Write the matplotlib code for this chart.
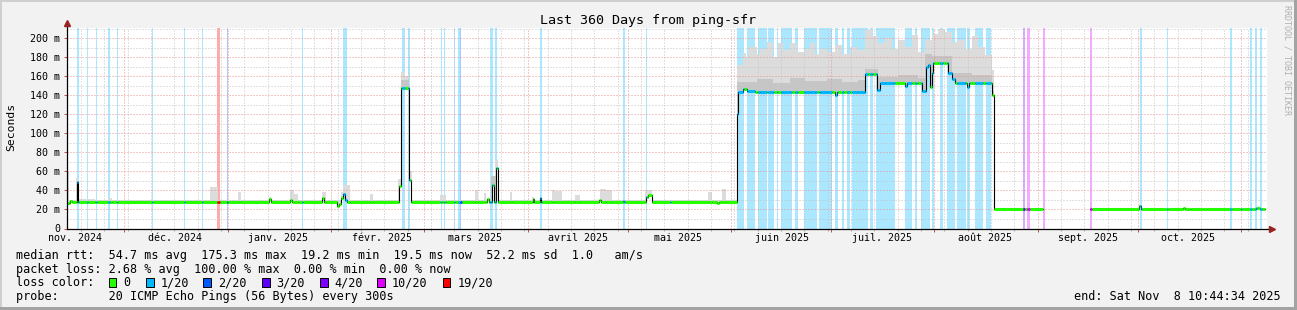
import numpy as np
import matplotlib
matplotlib.use('Agg')
import matplotlib.pyplot as plt
import matplotlib.dates as mdates
from matplotlib.ticker import MultipleLocator, FuncFormatter
from matplotlib.patches import Rectangle
from datetime import datetime, timedelta

plt.rcParams['font.family'] = ['DejaVu Sans Mono']

W, H = 1297, 310
nan = np.nan

# left edge of the time axis, 360 days shown
t0 = datetime(2024, 11, 13, 18, 44)
span_days = 360

# loss classes
loss_labels = ['0', '1/20', '2/20', '3/20', '4/20', '10/20', '19/20']
loss_colors = ['#26ff00', '#00b8ff', '#0059ff', '#5e00ff', '#7e00ff', '#dd00ff', '#ff0000']

# median rtt (ms) as steps: day offset from t0 -> value until next change
med_day = [0.0, 0.9, 1.5, 2.85, 3.3, 60.6, 61.2, 66.9, 67.35, 76.5, 77.1, 81.0, 81.6, 82.2, 82.8,
           83.4, 84.0, 99.6, 100.2, 102.6, 103.2, 126.0, 126.6, 127.5, 128.1, 128.7, 129.15, 139.65,
           140.1, 141.75, 142.2, 159.6, 160.2, 166.65, 167.1, 173.7, 174.3, 175.5, 195.0, 195.6,
           200.9, 201.2, 202.9, 203.9, 206.4, 230.4, 230.9, 239.4, 242.9, 243.9, 251.4, 251.9, 256.4,
           257.7, 258.4, 258.9, 259.4, 259.9, 264.4, 265.4, 266.4, 269.9, 270.6, 277.4, 278.2, 292.8,
           306.9, 321.6, 322.2, 334.65, 335.25, 336.6, 337.2, 340.8, 342.0, 356.7, 357.9, 359.4]
med_ms = [27, 29, 28, 49, 28, 31, 28, 30, 28, 32, 28, 24, 26, 32, 36,
          30, 28, 45, 148, 51, 28, 31, 28, 46, 28, 64, 28, 31,
          28, 32, 28, 30, 28, 29, 28, 33, 35, 28, 27, 28,
          120, 144, 147, 145, 144, 140, 144, 162, 146, 153, 150, 153, 145,
          170, 172, 149, 163, 174, 163, 157, 153, 149, 153, 140, 20.5, nan,
          20.5, 24, 20.5, 22, 20.5, 21, 20.5, 21, 20.5, 22, 20.5, nan]

# smoke: highest ping of the round (ms), steps
smoke_day = [0.0, 0.45, 2.7, 3.3, 8.4, 12.3, 13.5, 42.9, 45.3, 51.3, 52.2, 60.6, 61.2, 66.9, 68.1,
             69.3, 76.5, 77.7, 82.2, 82.8, 84.9, 90.9, 91.8, 99.3, 100.2, 101.4, 102.6, 103.5, 111.9,
             113.7, 122.4, 123.3, 125.1, 125.7, 127.2, 128.4, 129.3, 132.9, 133.5, 139.5, 140.1,
             145.5, 146.4, 148.5, 152.4, 153.9, 159.9, 161.7, 163.5, 173.4, 175.5, 192.3, 193.5,
             196.5, 197.7, 200.9, 201.1, 202.9, 203.6, 204.4, 206.9, 207.9, 209.9, 211.9, 213.4,
             214.9, 216.9, 218.9, 221.4, 222.9, 224.4, 225.9, 227.9, 230.4, 232.4, 234.9, 237.4,
             239.4, 241.4, 243.4, 245.4, 247.4, 249.4, 251.4, 253.4, 255.4, 257.4, 259.4, 261.4,
             263.4, 265.4, 267.4, 269.4, 271.4, 273.4, 275.4, 277.4, 278.2, 321.6, 322.2, 356.7, 357.9]
smoke_ms = [60, 30, 53, 31, 30, 32, 30, 44, 30, 38, 30, 33, 30, 40, 36,
            30, 38, 30, 38, 46, 30, 36, 30, 52, 165, 160, 60, 30, 35,
            30, 41, 30, 37, 30, 50, 72, 30, 38, 30, 33, 30,
            41, 39, 30, 35, 30, 42, 40, 30, 40, 30, 38, 30,
            42, 30, 125, 172, 185, 180, 191, 184, 189, 196, 180, 195,
            188, 195, 186, 189, 195, 184, 189, 186, 193, 184, 191, 188,
            209, 202, 195, 200, 189, 198, 191, 203, 186, 198, 205, 210,
            207, 196, 198, 189, 202, 191, 182, 167, 21, 26, 21, 23, 21]

# darker inner smoke band (ms), steps
mid_day = [0.0, 100.2, 102.6, 127.2, 129.3, 201.1, 206.9, 211.9, 216.9, 221.4, 227.9, 232.4,
           237.4, 239.4, 243.4, 249.4, 255.4, 257.4, 259.4, 265.4, 271.4, 277.4, 278.2]
mid_ms = [0, 156, 0, 55, 0, 154, 157, 153, 158, 155, 157, 154,
          156, 168, 159, 161, 158, 184, 181, 163, 161, 145, 0]

# periods with packet loss: start day, end day, loss class
loss_start = [3.0, 5.85, 8.55, 12.3, 15.0, 25.5, 34.95, 40.5, 45.0, 47.85, 70.5, 82.8, 100.5,
              102.15, 107.85, 112.05, 112.95, 116.1, 117.3, 117.75, 126.9, 128.25, 141.9, 166.8,
              173.8, 180.75,
              201.1, 204.1, 207.3, 210.4, 212.9, 214.2, 218.4, 221.2, 225.6, 230.4, 232.6, 233.9,
              235.4, 240.9, 242.7, 251.4, 254.4, 256.1, 259.4, 261.9, 264.1, 267.1, 270.1, 272.4,
              275.7,
              286.9, 288.1, 292.7, 306.9, 321.9, 330.0, 348.9, 352.05, 354.9, 356.4, 357.9]
loss_end = [3.45, 6.15, 9.0, 12.9, 15.3, 25.8, 35.4, 40.8, 45.9, 48.15, 70.8, 84.0, 101.4,
            102.9, 108.1, 112.5, 113.4, 116.4, 117.75, 118.35, 127.8, 129.0, 142.35, 167.4,
            174.1, 181.05,
            203.2, 206.4, 209.9, 212.2, 213.4, 217.4, 219.2, 224.9, 229.4, 231.4, 233.2, 234.9,
            240.4, 241.9, 248.4, 253.4, 255.1, 258.9, 260.1, 262.9, 266.4, 269.7, 270.9, 274.7,
            277.1,
            287.4, 288.9, 293.3, 307.5, 322.5, 330.3, 349.5, 352.35, 355.5, 357.0, 358.5]
loss_cls = [1, 1, 1, 1, 1, 1, 1, 1, 6, 2, 1, 1, 1,
            1, 1, 1, 1, 1, 1, 2, 1, 1, 1, 1,
            1, 1,
            1, 1, 1, 1, 1, 1, 1, 1, 1, 1, 1, 1,
            1, 1, 1, 1, 1, 1, 1, 1, 1, 1, 1, 1,
            1,
            4, 5, 5, 5, 1, 1, 1, 1, 1, 1, 1]

month_names = ['nov. 2024', 'déc. 2024', 'janv. 2025', 'févr. 2025', 'mars 2025', 'avril 2025',
               'mai 2025', 'juin 2025', 'juil. 2025', 'août 2025', 'sept. 2025', 'oct. 2025']
month_firsts = [datetime(2024, 11, 1), datetime(2024, 12, 1)] + \
               [datetime(2025, m, 1) for m in range(1, 11)]

legend_median = 'median rtt:  54.7 ms avg  175.3 ms max  19.2 ms min  19.5 ms now  52.2 ms sd  1.0   am/s'
legend_loss = 'packet loss: 2.68 % avg  100.00 % max  0.00 % min  0.00 % now'
legend_probe = 'probe:       20 ICMP Echo Pings (56 Bytes) every 300s'
end_text = 'end: Sat Nov  8 10:44:34 2025'


def step_at(days, vals, t):
    idx = np.searchsorted(days, t, side='right') - 1
    return np.asarray(vals, float)[np.clip(idx, 0, None)]


fig = plt.figure(figsize=(W / 100, H / 100), dpi=100, facecolor='#f2f2f2')

# canvas border
for (x, y, w, h, c) in [(0, 0, 2, H, '#cfcfcf'), (0, H - 2, W, 2, '#cfcfcf'),
                        (W - 3, 0, 3, H, '#a3a3a3'), (0, 0, W, 3, '#a3a3a3')]:
    fig.patches.append(Rectangle((x / W, y / H), w / W, h / H, transform=fig.transFigure,
                                 facecolor=c, edgecolor='none'))

ax = fig.add_axes([67 / W, (H - 228.5) / H, 1200 / W, (228.5 - 28.3) / H])
ax.set_facecolor('white')
x0 = mdates.date2num(t0)
ax.xaxis_date()
ax.set_xlim(x0, x0 + span_days)
ax.set_ylim(0, 210.5)
for s in ax.spines.values():
    s.set_visible(False)

# loss background stripes
for s, e, c in zip(loss_start, loss_end, loss_cls):
    ax.axvspan(x0 + s, x0 + e, color=loss_colors[c], alpha=0.33, lw=0, zorder=1)

t_all = np.unique(np.concatenate([med_day, smoke_day, mid_day, loss_start, loss_end, [span_days]]))
med = step_at(med_day, med_ms, t_all)
top = step_at(smoke_day, smoke_ms, t_all)
mid = step_at(mid_day, mid_ms, t_all)

ax.fill_between(x0 + t_all, med, np.maximum(top, med), step='post', color='#dcdcdc', lw=0, zorder=1.5)
ax.fill_between(x0 + t_all, med, np.maximum(mid, med), step='post', color='#c6c6c6', lw=0, zorder=1.6)

# median line: black steps plus loss-coloured marks
ax.step(x0 + t_all, med, where='post', color='black', lw=0.8, zorder=3)
cls_at = np.zeros(len(t_all), int)
for s, e, c in zip(loss_start, loss_end, loss_cls):
    cls_at[(t_all >= s) & (t_all < e)] = c
ok = ~np.isnan(med[:-1])
ax.hlines(med[:-1][ok], (x0 + t_all[:-1])[ok], (x0 + t_all[1:])[ok],
          colors=[loss_colors[c] for c in cls_at[:-1][ok]], lw=2.2, zorder=4)

# grid
ax.xaxis.set_major_locator(mdates.MonthLocator())
ax.xaxis.set_minor_locator(mdates.WeekdayLocator(byweekday=mdates.MO))
ax.yaxis.set_major_locator(MultipleLocator(20))
ax.yaxis.set_minor_locator(MultipleLocator(10))
ax.set_axisbelow(False)
ax.grid(which='major', color='#e49494', ls=(0, (1, 2)), lw=0.72)
ax.grid(which='minor', color='#c4c4c4', ls=(0, (1, 2)), lw=0.72)
ax.yaxis.set_major_formatter(FuncFormatter(lambda v, p: '0' if v == 0 else '%d m' % v))
ax.tick_params(axis='x', which='both', labelbottom=False, direction='out', width=0.72)
ax.tick_params(axis='x', which='major', length=2.5, color='#c85050')
ax.tick_params(axis='x', which='minor', length=1.5, color='#aaaaaa')
ax.tick_params(axis='y', which='major', length=2, width=0.72, color='#c85050', pad=3, labelsize=7.2)
ax.tick_params(axis='y', which='minor', length=0)

for name, first in zip(month_names, month_firsts):
    ax.text(mdates.date2num(first + timedelta(days=15, hours=4)), -0.064, name,
            transform=ax.get_xaxis_transform(), ha='center', va='baseline', fontsize=7.2)

# axes with arrows
ax.plot([0, 0], [0, 1.02], transform=ax.transAxes, color='black', lw=0.9, clip_on=False, zorder=6)
ax.plot([0, 1.003], [0, 0], transform=ax.transAxes, color='black', lw=0.9, clip_on=False, zorder=6)
ax.plot(0, 1.025, marker='^', ms=4, color='#992222', transform=ax.transAxes, clip_on=False, zorder=7)
ax.plot(1.0045, 0, marker='>', ms=4, color='#992222', transform=ax.transAxes, clip_on=False, zorder=7)

fig.text(648.5 / W, 1 - 24 / H, 'Last 360 Days from ping-sfr', ha='center', va='baseline', fontsize=9.6)
fig.text(11 / W, 1 - 127 / H, 'Seconds', rotation=90, ha='center', va='center', fontsize=8.2)
fig.text(1287 / W, 1 - 60 / H, 'RRDTOOL / TOBI OETIKER', rotation=270, ha='center', va='center',
         fontsize=6, color='#b0b0b0')

# legend
fs = 8.45
fig.text(16 / W, 1 - 258.5 / H, legend_median, va='baseline', fontsize=fs)
fig.text(16 / W, 1 - 272.5 / H, legend_loss, va='baseline', fontsize=fs)
fig.text(16 / W, 1 - 286.5 / H, 'loss color:', va='baseline', fontsize=fs)
sq_x = [108.7, 146, 203.3, 262, 320, 377.3, 442.7]
for sx, lab, col in zip(sq_x, loss_labels, loss_colors):
    fig.patches.append(Rectangle((sx / W, 1 - 286.5 / H), 7.5 / W, 8.5 / H, transform=fig.transFigure,
                                 facecolor=col, edgecolor='black', lw=0.7))
    fig.text((sx + 14.5) / W, 1 - 286.5 / H, lab, va='baseline', fontsize=fs)
fig.text(16 / W, 1 - 300.3 / H, legend_probe, va='baseline', fontsize=fs)
fig.text(1281 / W, 1 - 300.3 / H, end_text, ha='right', va='baseline', fontsize=fs)

fig.savefig('out.png', dpi=100, facecolor=fig.get_facecolor())
